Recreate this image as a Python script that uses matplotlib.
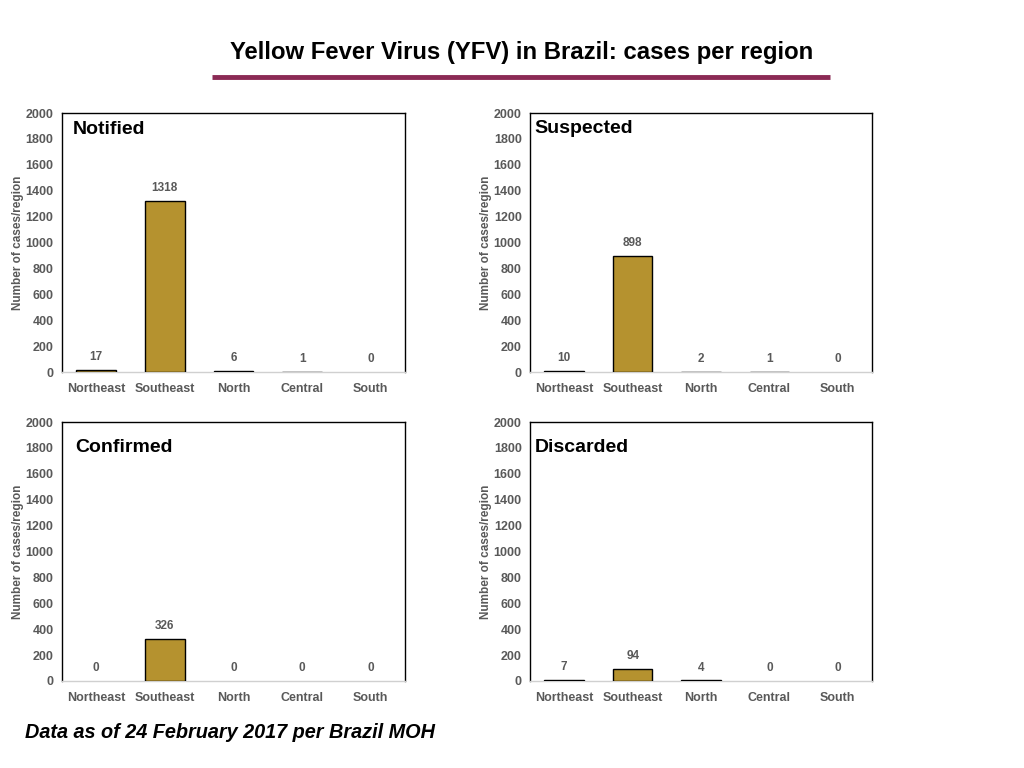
import matplotlib
matplotlib.use("Agg")
import matplotlib.pyplot as plt

plt.rcParams['font.family'] = ['Liberation Sans', 'DejaVu Sans']

regions = ["Northeast", "Southeast", "North", "Central", "South"]
notified = [17, 1318, 6, 1, 0]
suspected = [10, 898, 2, 1, 0]
confirmed = [0, 326, 0, 0, 0]
discarded = [7, 94, 4, 0, 0]
panel_titles = ["Notified", "Suspected", "Confirmed", "Discarded"]
yticks = list(range(0, 2001, 200))

bar_color = "#B5922F"
gray = "#595959"

fig = plt.figure(figsize=(10.24, 7.68), dpi=100)

positions = [
    [0.0605, 0.5156, 0.335, 0.3372],
    [0.5176, 0.5156, 0.334, 0.3372],
    [0.0605, 0.1133, 0.335, 0.3372],
    [0.5176, 0.1133, 0.334, 0.3372],
]
label_pos = [(0.032, 0.938), (0.012, 0.942), (0.038, 0.903), (0.015, 0.903)]
series = [notified, suspected, confirmed, discarded]

for pos, vals, ttl, lp in zip(positions, series, panel_titles, label_pos):
    ax = fig.add_axes(pos)
    x = list(range(len(regions)))
    bars = ax.bar(x, vals, width=0.58, color=bar_color, edgecolor="black", linewidth=1.0, zorder=3)
    for b, v in zip(bars, vals):
        if v == 0:
            b.set_visible(False)
    ax.set_xlim(-0.5, 4.5)
    ax.set_ylim(0, 2000)
    ax.set_yticks(yticks)
    ax.set_xticks(x)
    ax.set_xticklabels(regions)
    ax.tick_params(axis='both', length=0, colors=gray, labelsize=9)
    ax.tick_params(axis='x', pad=8)
    ax.tick_params(axis='y', pad=6)
    for lab in ax.get_xticklabels() + ax.get_yticklabels():
        lab.set_fontweight('bold')
        lab.set_color(gray)
    for s in ['top', 'left', 'right']:
        ax.spines[s].set_color('black')
        ax.spines[s].set_linewidth(1.0)
    ax.spines['bottom'].set_color('#D0D0D0')
    ax.spines['bottom'].set_linewidth(1.0)
    ax.set_ylabel("Number of cases/region", fontsize=8.5, color=gray, fontweight='bold', labelpad=1)
    for xi, v in zip(x, vals):
        ax.annotate(str(v), (xi, v), xytext=(0, 5), textcoords='offset points',
                    ha='center', va='bottom', fontsize=8.5, fontweight='bold', color=gray)
    ax.text(lp[0], lp[1], ttl, transform=ax.transAxes, ha='left', va='center',
            fontsize=14, fontweight='bold', color='black')

fig.text(0.509, 1 - 53/768, "Yellow Fever Virus (YFV) in Brazil: cases per region",
         ha='center', va='center', fontsize=17.2, fontweight='bold', color='black')
fig.add_artist(plt.Line2D([212/1024, 830/1024], [1-76.5/768, 1-76.5/768],
                          color="#8B2A55", linewidth=3.5, solid_capstyle='butt',
                          transform=fig.transFigure))
fig.text(25/1024, 1-733/768, "Data as of 24 February 2017 per Brazil MOH",
         ha='left', va='center', fontsize=14.35, fontweight='bold', style='italic', color='black')

fig.savefig("out.png", dpi=100)
